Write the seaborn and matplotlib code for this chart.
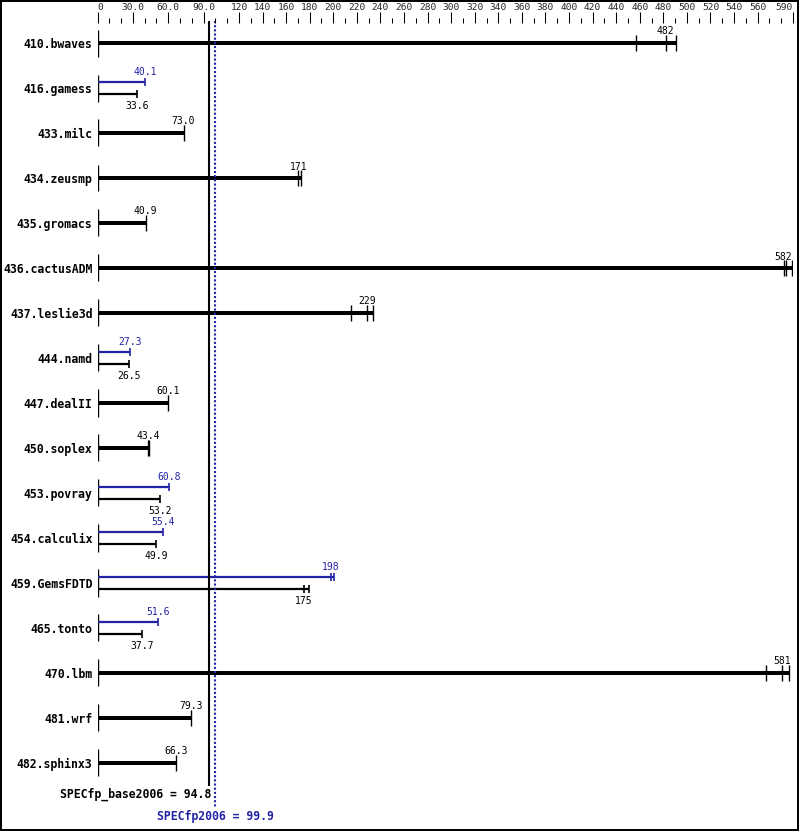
import numpy as np
import pandas as pd
import matplotlib
matplotlib.use('Agg')
import matplotlib.pyplot as plt
import seaborn as sns

# SPEC CFP2006 ratios (base / peak)
benchmarks = ['410.bwaves', '416.gamess', '433.milc', '434.zeusmp', '435.gromacs',
              '436.cactusADM', '437.leslie3d', '444.namd', '447.dealII', '450.soplex',
              '453.povray', '454.calculix', '459.GemsFDTD', '465.tonto', '470.lbm',
              '481.wrf', '482.sphinx3']
base_ratio = [482, 33.6, 73.0, 171, 40.9, 582, 229, 26.5, 60.1, 43.4, 53.2, 49.9, 175, 37.7, 581, 79.3, 66.3]
peak_ratio = [482, 40.1, 73.0, 171, 40.9, 582, 229, 27.3, 60.1, 43.4, 60.8, 55.4, 198, 51.6, 581, 79.3, 66.3]
# individual run results (tick marks at the bar ends)
base_runs = [[457, 482, 491], [33.6], [73.0], [170.5, 172.5], [40.9], [582, 584, 589],
             [215, 229, 233.5], [26.5], [60.1], [43.0, 43.4], [53.2], [49.9], [175, 179],
             [37.7], [567, 581, 587], [79.3], [66.3]]
peak_runs = [[457, 482, 491], [40.1], [73.0], [170.5, 172.5], [40.9], [582, 584, 589],
             [215, 229, 233.5], [27.3], [60.1], [43.0, 43.4], [60.8], [55.4], [198, 201],
             [51.6], [567, 581, 587], [79.3], [66.3]]
base_mean = 94.8
peak_mean = 99.9

major_ticks = [0, 30, 60, 90] + list(range(120, 561, 20)) + [590]
major_labels = ['0', '30.0', '60.0', '90.0'] + [str(v) for v in range(120, 561, 20)] + ['590']
minor_ticks = [v for v in range(0, 591, 10) if v not in major_ticks]

W, H = 799, 831
X0, X1 = 97.5, 793      # pixel positions of 0 and 590
ROW0, ROW_H = 43, 45    # pixel y of first row, row spacing
BLUE = '#2323a6'

sns.set_theme(style='white')
plt.rcParams['font.family'] = ['DejaVu Sans Mono']

ppu = (X1 - X0) / 590.0


def py(px):
    return (px - ROW0) / ROW_H


def fmt(v):
    return f'{v:.0f}' if v >= 100 else f'{v:.1f}'


fig = plt.figure(figsize=(W / 100, H / 100), dpi=100, facecolor='white',
                 edgecolor='black', linewidth=1.5)
ax = fig.add_axes([X0 / W, 0, (X1 - X0) / W, 1])
ax.set_facecolor('none')

df = pd.DataFrame({'bench': benchmarks, 'base': base_ratio, 'peak': peak_ratio})
df['same'] = df['base'] == df['peak']
df['base_end'] = [max(r) for r in base_runs]
df['peak_end'] = [max(r) for r in peak_runs]
df['end'] = df['base_end'].where(df['same'])

# thick bars where base == peak
sns.barplot(data=df, x='end', y='bench', order=benchmarks, color='black', saturation=1,
            width=4.5 / ROW_H, errorbar=None, linewidth=0, orient='h', ax=ax)

for i, r in df.iterrows():
    ax.vlines(0, i - 13.5 / ROW_H, i + 13.5 / ROW_H, color='black', lw=1)
    if r['same']:
        ax.vlines(base_runs[i], i - 8 / ROW_H, i + 8 / ROW_H, color='black', lw=1)
        ax.text(r['base'], i - 11.5 / ROW_H, fmt(r['base']), ha='center', va='center',
                fontsize=7, color='black')
    else:
        yp, yb = i - 6 / ROW_H, i + 6 / ROW_H
        ax.hlines(yp, 0, r['peak_end'], color=BLUE, lw=1.6)
        ax.vlines(peak_runs[i], yp - 4 / ROW_H, yp + 4 / ROW_H, color=BLUE, lw=1.2)
        ax.text(r['peak'], i - 16 / ROW_H, fmt(r['peak']), ha='center', va='center',
                fontsize=7, color=BLUE)
        ax.hlines(yb, 0, r['base_end'], color='black', lw=1.6)
        ax.vlines(base_runs[i], yb - 4 / ROW_H, yb + 4 / ROW_H, color='black', lw=1.2)
        ax.text(r['base'], i + 18 / ROW_H, fmt(r['base']), ha='center', va='center',
                fontsize=7, color='black')

# overall means
ax.vlines(base_mean, py(21), py(786), color='black', lw=1.5)
ax.vlines(peak_mean, py(21), py(807), color=BLUE, lw=1.5, linestyles=(0, (1, 1)))
ax.text(base_mean + 1.5 / ppu, py(794), f'SPECfp_base2006 = {base_mean}', ha='right',
        va='center', fontsize=8.3, fontweight='bold', color='black')
ax.text(peak_mean, py(817), f'SPECfp2006 = {peak_mean}', ha='center', va='center',
        fontsize=8.3, fontweight='bold', color=BLUE)

ax.set_xlim(0, 590)
ax.set_ylim(py(H), py(0))
ax.set_yticks(range(len(benchmarks)))
ax.set_yticklabels(benchmarks, fontsize=8.3, fontweight='bold', color='black')
ax.tick_params(axis='y', length=0, pad=3.6, left=True)
ax.tick_params(axis='x', bottom=False, labelbottom=False)
ax.set_xlabel('')
ax.set_ylabel('')
for s in ax.spines.values():
    s.set_visible(False)

# top scale
axt = fig.add_axes([X0 / W, 1 - 23.5 / H, (X1 - X0) / W, 0.0001])
axt.set_facecolor('none')
axt.set_xlim(0, 590)
axt.set_xticks(major_ticks)
axt.set_xticklabels(major_labels)
axt.set_xticks(minor_ticks, minor=True)
axt.set_yticks([])
axt.tick_params(axis='x', which='both', top=True, bottom=False, labeltop=True,
                labelbottom=False, direction='out', width=0.75, color='black')
axt.tick_params(axis='x', which='major', length=7.6, pad=0.6, labelsize=6.8)
axt.tick_params(axis='x', which='minor', length=3.6)
top_labels = axt.get_xticklabels()
top_labels[0].set_ha('left')
top_labels[-1].set_ha('right')
for s in axt.spines.values():
    s.set_visible(False)

fig.savefig('out.png', dpi=100)
